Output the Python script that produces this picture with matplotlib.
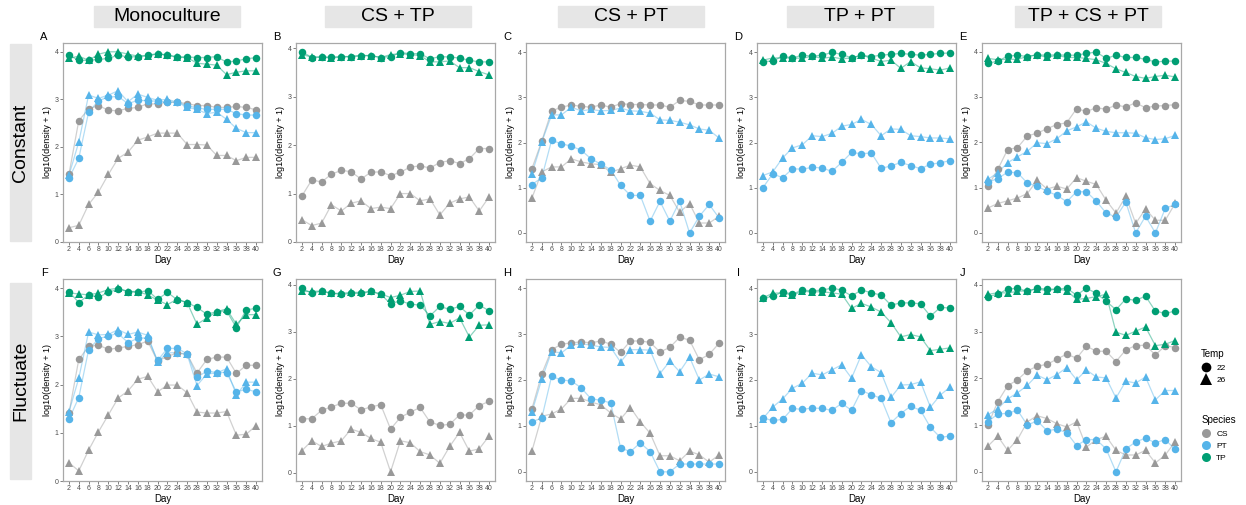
import matplotlib
matplotlib.use("Agg")
import matplotlib.pyplot as plt
from matplotlib.patches import Rectangle
from matplotlib.lines import Line2D

plt.rcParams['font.family'] = ['Liberation Sans', 'DejaVu Sans']

days = list(range(2, 41, 2))

# Constant temperature row
a_cs22 = [1.42, 2.55, 2.80, 2.87, 2.77, 2.76, 2.81, 2.83, 2.91, 2.90, 2.94, 2.94, 2.91, 2.87, 2.87, 2.83, 2.83, 2.85, 2.83, 2.78]
a_cs26 = [0.30, 0.35, 0.79, 1.05, 1.42, 1.76, 1.89, 2.14, 2.21, 2.29, 2.29, 2.29, 2.05, 2.05, 2.04, 1.82, 1.82, 1.71, 1.78, 1.78]
a_pt22 = [1.34, 1.76, 2.73, 2.97, 3.05, 3.06, 2.91, 2.98, 2.97, 2.96, 2.94, 2.94, 2.87, 2.82, 2.79, 2.79, 2.79, 2.70, 2.67, 2.67]
a_pt26 = [1.40, 2.10, 3.09, 3.02, 3.09, 3.18, 2.95, 3.11, 3.04, 2.98, 3.00, 2.94, 2.83, 2.79, 2.70, 2.73, 2.58, 2.39, 2.30, 2.30]
a_tp22 = [3.93, 3.82, 3.82, 3.84, 3.86, 3.93, 3.89, 3.90, 3.93, 3.96, 3.93, 3.89, 3.89, 3.88, 3.88, 3.90, 3.78, 3.81, 3.85, 3.88]
a_tp26 = [3.86, 3.91, 3.82, 3.95, 4.00, 4.00, 3.95, 3.91, 3.91, 3.96, 3.93, 3.89, 3.88, 3.76, 3.74, 3.72, 3.52, 3.57, 3.60, 3.60]

b_cs22 = [0.95, 1.28, 1.24, 1.40, 1.48, 1.45, 1.30, 1.44, 1.45, 1.37, 1.44, 1.55, 1.57, 1.53, 1.64, 1.68, 1.62, 1.72, 1.93, 1.93]
b_cs26 = [0.46, 0.34, 0.39, 0.77, 0.64, 0.80, 0.85, 0.69, 0.72, 0.69, 1.00, 1.00, 0.85, 0.89, 0.56, 0.80, 0.89, 0.93, 0.64, 0.93]
b_tp22 = [3.93, 3.81, 3.82, 3.82, 3.83, 3.83, 3.85, 3.85, 3.81, 3.83, 3.91, 3.89, 3.89, 3.78, 3.83, 3.82, 3.80, 3.75, 3.72, 3.72]
b_tp26 = [3.87, 3.82, 3.82, 3.80, 3.82, 3.83, 3.85, 3.85, 3.81, 3.87, 3.89, 3.87, 3.85, 3.72, 3.72, 3.74, 3.60, 3.60, 3.52, 3.45]

c_cs22 = [1.42, 2.03, 2.70, 2.78, 2.83, 2.80, 2.78, 2.83, 2.78, 2.86, 2.84, 2.84, 2.83, 2.83, 2.78, 2.93, 2.91, 2.83, 2.83, 2.83]
c_cs26 = [0.77, 1.35, 1.46, 1.46, 1.64, 1.57, 1.53, 1.51, 1.34, 1.42, 1.50, 1.46, 1.09, 0.94, 0.83, 0.46, 0.65, 0.22, 0.22, 0.37]
c_pt22 = [1.07, 1.22, 2.05, 1.97, 1.92, 1.83, 1.64, 1.52, 1.40, 1.05, 0.83, 0.83, 0.26, 0.70, 0.26, 0.70, 0.00, 0.37, 0.63, 0.33]
c_pt26 = [1.31, 2.01, 2.61, 2.61, 2.78, 2.70, 2.73, 2.70, 2.71, 2.76, 2.70, 2.69, 2.65, 2.50, 2.49, 2.45, 2.39, 2.30, 2.27, 2.10]

d_pt22 = [1.00, 1.31, 1.22, 1.42, 1.41, 1.45, 1.44, 1.36, 1.56, 1.78, 1.75, 1.77, 1.43, 1.48, 1.56, 1.49, 1.42, 1.52, 1.55, 1.60]
d_pt26 = [1.27, 1.35, 1.66, 1.88, 1.95, 2.15, 2.13, 2.20, 2.36, 2.40, 2.51, 2.40, 2.15, 2.30, 2.29, 2.15, 2.13, 2.10, 2.10, 2.08]
d_tp22 = [3.79, 3.80, 3.91, 3.87, 3.93, 3.91, 3.93, 3.99, 3.95, 3.87, 3.93, 3.90, 3.93, 3.95, 3.97, 3.95, 3.93, 3.95, 3.97, 3.98]
d_tp26 = [3.82, 3.87, 3.87, 3.87, 3.86, 3.91, 3.86, 3.89, 3.85, 3.87, 3.93, 3.87, 3.79, 3.82, 3.64, 3.79, 3.65, 3.63, 3.60, 3.65]

e_cs22 = [1.03, 1.40, 1.84, 1.88, 2.14, 2.20, 2.30, 2.39, 2.43, 2.74, 2.68, 2.76, 2.73, 2.82, 2.78, 2.87, 2.76, 2.80, 2.81, 2.83]
e_cs26 = [0.55, 0.65, 0.71, 0.77, 0.87, 1.16, 0.97, 1.03, 0.97, 1.22, 1.14, 1.07, 0.72, 0.44, 0.81, 0.21, 0.53, 0.28, 0.28, 0.65]
e_pt22 = [1.12, 1.20, 1.34, 1.33, 1.10, 1.03, 0.92, 0.83, 0.69, 0.91, 0.91, 0.70, 0.44, 0.35, 0.68, 0.00, 0.37, 0.00, 0.54, 0.63]
e_pt26 = [1.18, 1.33, 1.55, 1.68, 1.80, 1.99, 1.97, 2.08, 2.25, 2.34, 2.45, 2.31, 2.24, 2.21, 2.21, 2.20, 2.10, 2.06, 2.08, 2.15]
e_tp22 = [3.74, 3.79, 3.90, 3.92, 3.89, 3.93, 3.92, 3.93, 3.92, 3.92, 3.96, 3.99, 3.85, 3.92, 3.87, 3.87, 3.83, 3.77, 3.79, 3.79]
e_tp26 = [3.85, 3.82, 3.83, 3.83, 3.89, 3.93, 3.87, 3.92, 3.87, 3.87, 3.85, 3.82, 3.74, 3.62, 3.54, 3.45, 3.41, 3.45, 3.48, 3.44]

# Fluctuating temperature row
f_cs22 = [1.40, 2.52, 2.79, 2.82, 2.73, 2.76, 2.79, 2.83, 2.90, 2.48, 2.59, 2.65, 2.63, 2.24, 2.52, 2.57, 2.57, 2.23, 2.40, 2.40]
f_cs26 = [0.38, 0.21, 0.64, 1.02, 1.37, 1.72, 1.87, 2.11, 2.17, 1.85, 1.99, 1.99, 1.83, 1.43, 1.41, 1.41, 1.44, 0.95, 0.97, 1.15]
f_pt22 = [1.28, 1.73, 2.72, 2.95, 3.01, 3.06, 2.87, 2.96, 2.97, 2.50, 2.75, 2.75, 2.64, 2.15, 2.28, 2.25, 2.25, 1.85, 1.90, 1.85]
f_pt26 = [1.43, 2.13, 3.09, 3.03, 3.04, 3.14, 3.04, 3.09, 3.02, 2.47, 2.66, 2.66, 2.63, 1.98, 2.22, 2.24, 2.33, 1.78, 2.05, 2.05]
f_tp22 = [3.93, 3.70, 3.86, 3.81, 3.91, 3.98, 3.93, 3.91, 3.95, 3.77, 3.91, 3.76, 3.70, 3.60, 3.46, 3.51, 3.53, 3.18, 3.55, 3.58]
f_tp26 = [3.90, 3.88, 3.86, 3.90, 3.97, 4.00, 3.93, 3.93, 3.86, 3.75, 3.66, 3.77, 3.70, 3.25, 3.38, 3.51, 3.57, 3.25, 3.45, 3.45]

g_cs22 = [1.15, 1.15, 1.33, 1.40, 1.48, 1.48, 1.34, 1.40, 1.45, 0.93, 1.18, 1.29, 1.39, 1.08, 1.01, 1.03, 1.23, 1.23, 1.43, 1.52]
g_cs26 = [0.47, 0.68, 0.56, 0.63, 0.68, 0.93, 0.86, 0.73, 0.65, 0.02, 0.68, 0.64, 0.45, 0.38, 0.20, 0.56, 0.86, 0.46, 0.51, 0.78]
g_tp22 = [3.93, 3.82, 3.87, 3.82, 3.80, 3.82, 3.82, 3.86, 3.80, 3.60, 3.66, 3.59, 3.57, 3.34, 3.54, 3.48, 3.54, 3.36, 3.57, 3.45]
g_tp26 = [3.86, 3.86, 3.87, 3.82, 3.82, 3.84, 3.84, 3.86, 3.81, 3.73, 3.78, 3.86, 3.87, 3.16, 3.22, 3.18, 3.30, 2.89, 3.14, 3.15]

h_cs22 = [1.37, 2.13, 2.66, 2.78, 2.81, 2.83, 2.81, 2.85, 2.78, 2.60, 2.85, 2.85, 2.82, 2.61, 2.71, 2.93, 2.87, 2.44, 2.56, 2.80]
h_cs26 = [0.45, 1.21, 1.26, 1.37, 1.60, 1.60, 1.52, 1.46, 1.28, 1.15, 1.40, 1.09, 0.84, 0.35, 0.35, 0.24, 0.45, 0.37, 0.21, 0.37]
h_pt22 = [1.09, 1.17, 2.08, 2.00, 1.98, 1.83, 1.59, 1.56, 1.50, 0.52, 0.44, 0.63, 0.44, 0.00, 0.00, 0.17, 0.17, 0.17, 0.17, 0.17]
h_pt26 = [1.30, 2.02, 2.62, 2.59, 2.76, 2.79, 2.76, 2.72, 2.71, 2.39, 2.66, 2.66, 2.65, 2.14, 2.41, 2.18, 2.50, 2.00, 2.13, 2.07]

i_pt22 = [1.17, 1.12, 1.14, 1.38, 1.36, 1.39, 1.38, 1.34, 1.49, 1.34, 1.77, 1.68, 1.60, 1.07, 1.27, 1.43, 1.34, 0.97, 0.75, 0.78]
i_pt26 = [1.16, 1.41, 1.59, 1.82, 1.93, 2.15, 2.11, 2.22, 2.33, 2.04, 2.55, 2.29, 2.16, 1.62, 1.89, 1.90, 1.96, 1.41, 1.67, 1.85]
i_tp22 = [3.78, 3.82, 3.92, 3.87, 3.96, 3.94, 3.96, 4.00, 3.96, 3.83, 3.96, 3.90, 3.85, 3.63, 3.68, 3.68, 3.66, 3.39, 3.58, 3.57]
i_tp26 = [3.79, 3.89, 3.90, 3.85, 3.93, 3.92, 3.92, 3.90, 3.87, 3.56, 3.67, 3.59, 3.48, 3.25, 2.94, 2.99, 2.94, 2.64, 2.67, 2.70]

j_cs22 = [1.00, 1.50, 1.84, 1.97, 2.16, 2.26, 2.30, 2.41, 2.52, 2.43, 2.69, 2.58, 2.58, 2.36, 2.61, 2.70, 2.71, 2.50, 2.70, 2.66]
j_cs26 = [0.55, 0.76, 0.46, 0.69, 1.07, 1.20, 1.14, 1.03, 0.96, 1.07, 0.53, 0.69, 0.76, 0.46, 0.36, 0.36, 0.46, 0.19, 0.36, 0.64]
j_pt22 = [1.07, 1.24, 1.25, 1.32, 1.00, 1.09, 0.88, 0.91, 0.84, 0.56, 0.69, 0.69, 0.49, 0.00, 0.49, 0.64, 0.72, 0.62, 0.69, 0.48]
j_pt26 = [1.22, 1.35, 1.56, 1.69, 1.85, 2.07, 1.97, 2.08, 2.23, 1.97, 2.18, 2.03, 2.01, 1.58, 1.94, 1.90, 2.03, 1.54, 1.74, 1.74]
j_tp22 = [3.75, 3.80, 3.91, 3.93, 3.86, 3.93, 3.91, 3.91, 3.93, 3.78, 3.93, 3.82, 3.65, 3.47, 3.70, 3.67, 3.76, 3.44, 3.39, 3.44]
j_tp26 = [3.80, 3.83, 3.83, 3.86, 3.88, 3.91, 3.88, 3.91, 3.88, 3.69, 3.71, 3.75, 3.80, 2.99, 2.92, 3.01, 3.10, 2.70, 2.73, 2.81]

treatments = ["Monoculture", "CS + TP", "CS + PT", "TP + PT", "TP + CS + PT"]
regimes = ["Constant", "Fluctuate"]
letters = ["A", "B", "C", "D", "E", "F", "G", "H", "I", "J"]
species = ["CS", "PT", "TP"]
temps = ["22", "26"]
colors = {"CS": "#999999", "PT": "#56B4E9", "TP": "#009E73"}
shapes = {"22": "o", "26": "^"}

panels = [
    [("CS", "22", a_cs22), ("CS", "26", a_cs26), ("PT", "22", a_pt22), ("PT", "26", a_pt26), ("TP", "22", a_tp22), ("TP", "26", a_tp26)],
    [("CS", "22", b_cs22), ("CS", "26", b_cs26), ("TP", "22", b_tp22), ("TP", "26", b_tp26)],
    [("CS", "22", c_cs22), ("CS", "26", c_cs26), ("PT", "22", c_pt22), ("PT", "26", c_pt26)],
    [("PT", "22", d_pt22), ("PT", "26", d_pt26), ("TP", "22", d_tp22), ("TP", "26", d_tp26)],
    [("CS", "22", e_cs22), ("CS", "26", e_cs26), ("PT", "22", e_pt22), ("PT", "26", e_pt26), ("TP", "22", e_tp22), ("TP", "26", e_tp26)],
    [("CS", "22", f_cs22), ("CS", "26", f_cs26), ("PT", "22", f_pt22), ("PT", "26", f_pt26), ("TP", "22", f_tp22), ("TP", "26", f_tp26)],
    [("CS", "22", g_cs22), ("CS", "26", g_cs26), ("TP", "22", g_tp22), ("TP", "26", g_tp26)],
    [("CS", "22", h_cs22), ("CS", "26", h_cs26), ("PT", "22", h_pt22), ("PT", "26", h_pt26)],
    [("PT", "22", i_pt22), ("PT", "26", i_pt26), ("TP", "22", i_tp22), ("TP", "26", i_tp26)],
    [("CS", "22", j_cs22), ("CS", "26", j_cs26), ("PT", "22", j_pt22), ("PT", "26", j_pt26), ("TP", "22", j_tp22), ("TP", "26", j_tp26)],
]
# panels whose y axis was stretched to span 0..4
full_range = {"C", "D", "H", "I"}

W, H = 1246, 505
fig = plt.figure(figsize=(W / 100, H / 100), dpi=100)

def box(x0, y0, w, h):
    return [x0 / W, 1 - (y0 + h) / H, w / W, h / H]

lefts = [63, 296, 526, 757, 982]
tops = [43, 279]
heights = [199, 202]
pw = 199

for k, series in enumerate(panels):
    row, col = divmod(k, 5)
    ax = fig.add_axes(box(lefts[col], tops[row], pw, heights[row]))
    for sp, t, vals in series:
        ax.plot(days, vals, color=colors[sp], alpha=0.45, lw=0.9, zorder=1)
    for sp, t, vals in series:
        ax.plot(days, vals, ls="none", marker=shapes[t], color=colors[sp],
                ms=5.4 if t == "22" else 6.4, mew=0, zorder=2)
    ax.set_xlim(0.8, 41.2)
    if letters[k] in full_range:
        ax.set_ylim(-0.2, 4.2)
    ax.set_xticks(days)
    ax.set_yticks([0, 1, 2, 3, 4])
    ax.tick_params(labelsize=5, colors="#4d4d4d", length=2, width=0.5, pad=1.2)
    for s in ax.spines.values():
        s.set_color("#a8a8a8")
        s.set_linewidth(0.9)
    ax.set_ylabel("log10(density + 1)", fontsize=6.5, labelpad=2)
    ax.set_xlabel("Day", fontsize=7, labelpad=1)
    fig.text((lefts[col] - 19) / W, 1 - (tops[row] - 6) / H, letters[k],
             fontsize=8, ha="center", va="center")

# column headers
hdr_x = [94, 325, 558, 787, 1015]
for x0, name in zip(hdr_x, treatments):
    fig.patches.append(Rectangle((x0 / W, 1 - 27 / H), 146 / W, 21 / H,
                                 transform=fig.transFigure, color="#e6e6e6", zorder=0))
    fig.text((x0 + 73) / W, 1 - 16.5 / H, name, fontsize=14, ha="center", va="center")

# row labels
row_y = [(44, 197), (283, 196)]
for (y0, h), name in zip(row_y, regimes):
    fig.patches.append(Rectangle((10 / W, 1 - (y0 + h) / H), 21 / W, h / H,
                                 transform=fig.transFigure, color="#e6e6e6", zorder=0))
    fig.text(20.5 / W, 1 - (y0 + h / 2) / H, name, fontsize=14, rotation=90,
             ha="center", va="center")

# legends
temp_handles = [Line2D([], [], ls="none", marker=shapes[t], color="black", ms=7 if t == "22" else 8, mew=0)
                for t in temps]
sp_handles = [Line2D([], [], ls="none", marker="o", color=colors[s], ms=6.5, mew=0) for s in species]
leg1 = fig.legend(temp_handles, temps, title="Temp", loc="upper left",
                  bbox_to_anchor=(1197 / W, 1 - 345 / H), frameon=False, fontsize=6,
                  title_fontsize=7, handlelength=1.2, handletextpad=0.6,
                  labelspacing=0.55, borderpad=0)
leg1._legend_box.align = "left"
leg2 = fig.legend(sp_handles, species, title="Species", loc="upper left",
                  bbox_to_anchor=(1197 / W, 1 - 411 / H), frameon=False, fontsize=6,
                  title_fontsize=7, handlelength=1.2, handletextpad=0.6,
                  labelspacing=0.55, borderpad=0)
leg2._legend_box.align = "left"

fig.savefig("out.png", dpi=100)
